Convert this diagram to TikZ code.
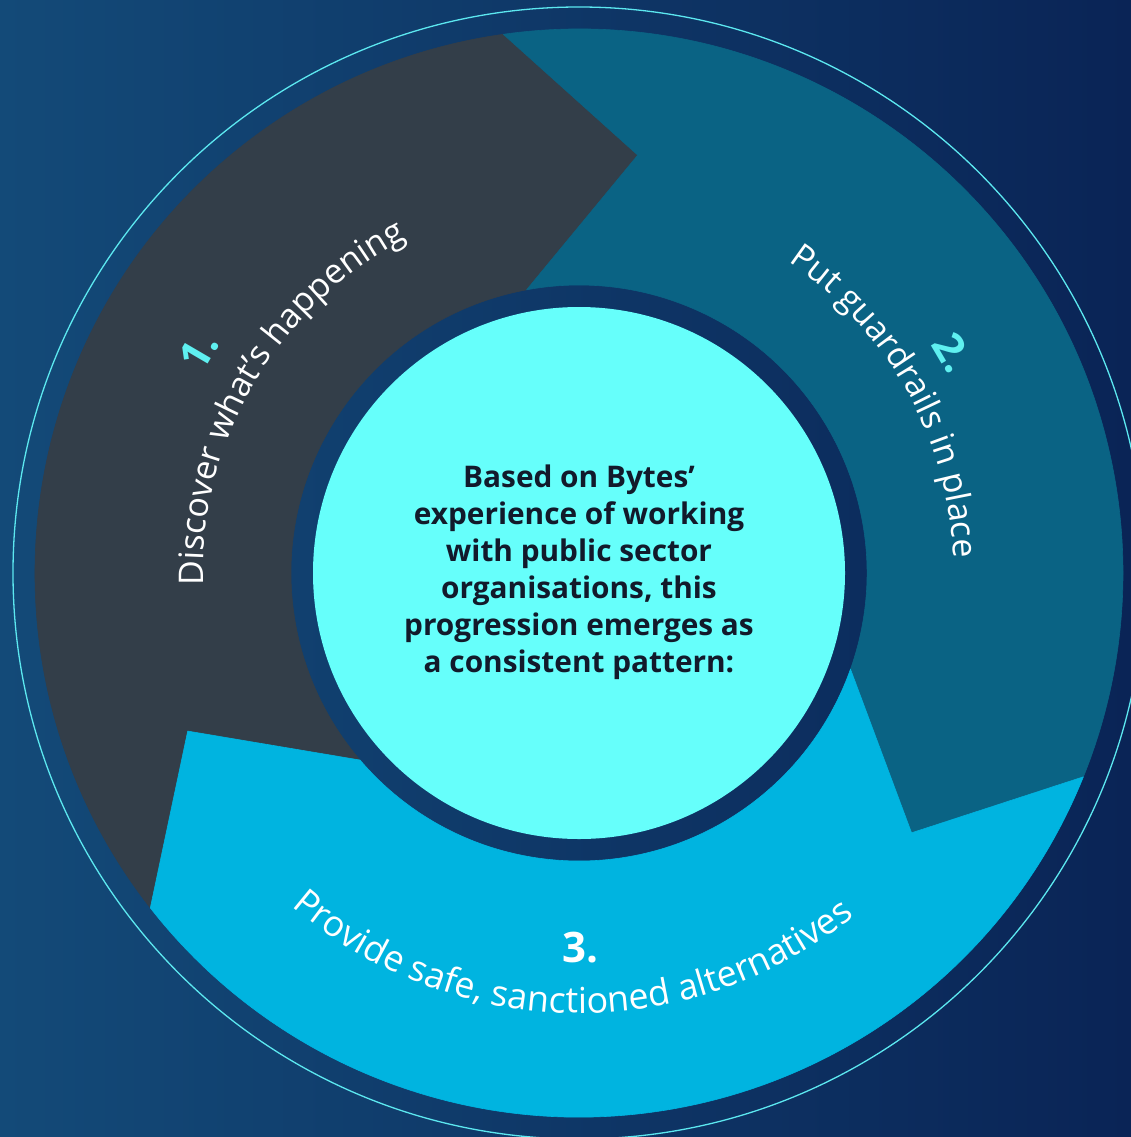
\documentclass[tikz,border=0pt]{standalone}
\usepackage{fontspec}
\setmainfont{Open Sans}
\usetikzlibrary{decorations.text}

\definecolor{bgleft}{HTML}{134A78}
\definecolor{bgright}{HTML}{0A2456}
\definecolor{greyarrow}{HTML}{333E49}
\definecolor{tealarrow}{HTML}{0A6384}
\definecolor{bluearrow}{HTML}{00B4E0}
\definecolor{centrefill}{HTML}{66FFFB}
\definecolor{centretext}{HTML}{121A2B}
\definecolor{numcyan}{HTML}{5FF0F0}
\definecolor{ringline}{HTML}{5CE8F0}

% one curved chevron of the cycle: #1 = tip angle, #2 = colour
% (tail notch = head of the previous chevron, 120 degrees back)
\newcommand\chevronseg[2]{%
  \filldraw[fill=#2, draw=#2, line width=0.6, line join=round]
    ({#1+136}:544) arc[start angle={#1+136}, end angle={#1+16}, radius=544]
    -- (#1:422)
    -- ({#1+18.5}:288) arc[start angle={#1+18.5}, end angle={#1+138.5}, radius=288]
    -- ({#1+120}:422) -- cycle;}

\newcommand\arclabelfont{\fontsize{34}{40}\selectfont\color{white}}
\newcommand\arclabelfontb{\fontsize{35.8}{40}\selectfont\color{white}}

\tikzset{
  stepnum/.style={inner sep=0pt, font=\bfseries\fontsize{42}{48}\selectfont},
  centrelabel/.style={align=center, inner sep=0pt, text=centretext,
    font=\bfseries\fontsize{29.8}{37}\selectfont},
}

\begin{document}
\begin{tikzpicture}[x=1pt,y=1pt]
  \useasboundingbox (0,0) rectangle (1131,-1137);
  \shade[left color=bgleft, right color=bgright] (0,0) rectangle (1131,-1137);

  \begin{scope}[shift={(579,-573)}]
    % thin outer circle
    \draw[ringline, line width=1.3] (0,0) circle[radius=566];

    % the three chevrons of the cycle
    \chevronseg{82}{greyarrow}
    \chevronseg{-38}{tealarrow}
    \chevronseg{-158}{bluearrow}

    % centre disc
    \fill[centrefill] (0,0) circle[radius=266];
    \node[centrelabel] (ctext) at (0,1) {Based on Bytes’\\experience of working\\with public sector\\organisations, this\\progression emerges as\\a consistent pattern:};

    % step numbers
    \node[stepnum, text=numcyan, rotate=59.7] (n1) at (149.7:440) {1.};
    \node[stepnum, text=numcyan, rotate=-59.5] (n2) at (30.5:434) {2.};
    \node[stepnum, text=white] (n3) at (270.2:375) {3.};

    % curved step captions
    \path[decorate, decoration={text along path, text align=center,
        text={|\arclabelfont|Discover what’s happening}}]
      (199.6:376) arc[start angle=199.6, end angle=99.6, radius=376];
    \path[decorate, decoration={text along path, text align=center,
        text={|\arclabelfont|Put guardrails in place}}]
      (79.2:375) arc[start angle=79.2, end angle=-20.8, radius=375];
    \path[decorate, decoration={text along path, text align=center,
        text={|\arclabelfontb|Provide safe, sanctioned alternatives}}]
      (204.0:440) arc[start angle=204.0, end angle=334.0, radius=440];
  \end{scope}
\end{tikzpicture}
\end{document}
